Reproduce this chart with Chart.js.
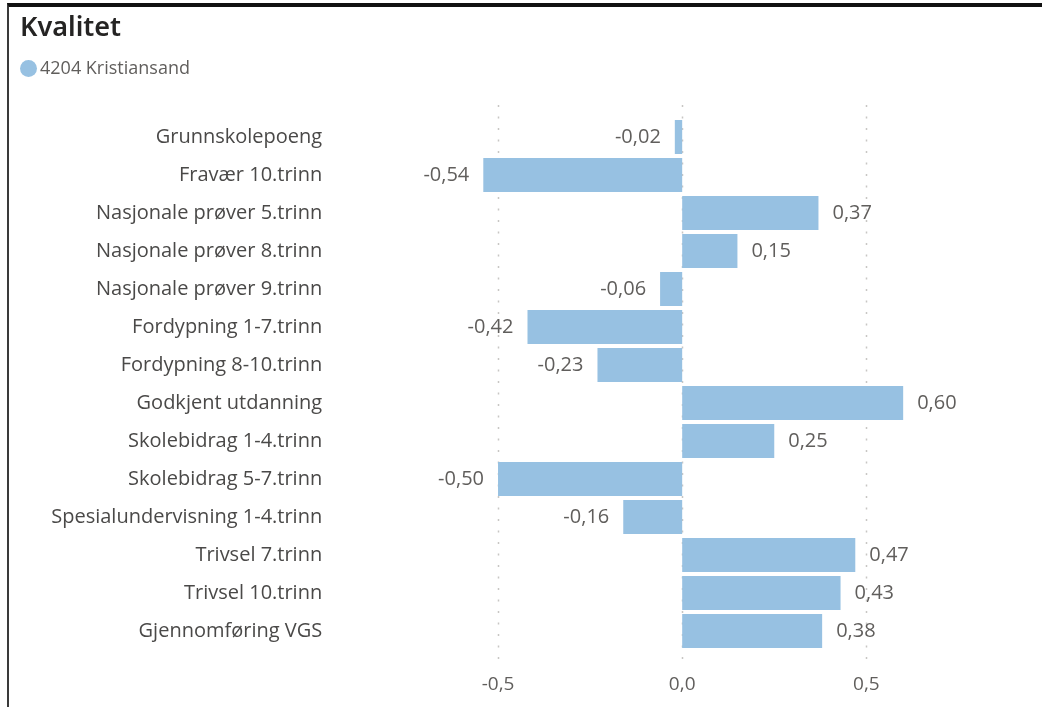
<!DOCTYPE html>
<html>
<head>
<meta charset="utf-8">
<script src="https://cdn.jsdelivr.net/npm/chart.js@4"></script>
<style>
  body { margin: 0; background: #fff; }
  #wrap { position: relative; width: 1042px; height: 707px; }
  #frame { position: absolute; left: 7px; top: 3px; right: 0; bottom: 0;
           border-top: 4px solid #111; border-left: 2px solid #3a3a3a; }
  #chart { position: absolute; left: 0; top: 0; }
</style>
</head>
<body>
<div id="wrap">
  <div id="frame"></div>
  <canvas id="chart" width="1042" height="707"></canvas>
</div>
<script>
const categories = [
  'Grunnskolepoeng', 'Fravær 10.trinn', 'Nasjonale prøver 5.trinn',
  'Nasjonale prøver 8.trinn', 'Nasjonale prøver 9.trinn', 'Fordypning 1-7.trinn',
  'Fordypning 8-10.trinn', 'Godkjent utdanning', 'Skolebidrag 1-4.trinn',
  'Skolebidrag 5-7.trinn', 'Spesialundervisning 1-4.trinn', 'Trivsel 7.trinn',
  'Trivsel 10.trinn', 'Gjennomføring VGS'
];
const kristiansand = [-0.02, -0.54, 0.37, 0.15, -0.06, -0.42, -0.23, 0.60, 0.25, -0.50, -0.16, 0.47, 0.43, 0.38];
const xTicks = [-0.5, 0, 0.5];

const textGrey = '#605E5C';
const fmt = (v, d) => v.toFixed(d).replace('.', ',');

// dotted vertical gridlines, a bit longer than the plot area
const dottedGrid = {
  id: 'dottedGrid',
  beforeDatasetsDraw(chart) {
    const { ctx, chartArea, scales: { x } } = chart;
    ctx.save();
    ctx.strokeStyle = '#c8c6c4';
    ctx.lineWidth = 1.5;
    ctx.setLineDash([2, 9.5]);
    xTicks.forEach(t => {
      const px = Math.round(x.getPixelForValue(t)) + 0.5;
      ctx.beginPath();
      ctx.moveTo(px, chartArea.top - 13);
      ctx.lineTo(px, chartArea.bottom + 13);
      ctx.stroke();
    });
    ctx.restore();
  }
};

// value labels at the end of each bar
const barValues = {
  id: 'barValues',
  afterDatasetsDraw(chart) {
    const { ctx } = chart;
    const meta = chart.getDatasetMeta(0);
    ctx.save();
    ctx.font = '20px "Open Sans"';
    ctx.fillStyle = textGrey;
    ctx.textBaseline = 'middle';
    meta.data.forEach((bar, i) => {
      const v = kristiansand[i];
      if (v >= 0) {
        ctx.textAlign = 'left';
        ctx.fillText(fmt(v, 2), bar.x + 14, bar.y);
      } else {
        ctx.textAlign = 'right';
        ctx.fillText(fmt(v, 2), bar.x - 14, bar.y);
      }
    });
    ctx.restore();
  }
};

// fixed legend block height so the plot starts lower
const legendGap = {
  id: 'legendGap',
  beforeInit(chart) {
    const fit = chart.legend.fit;
    chart.legend.fit = function () {
      fit.bind(chart.legend)();
      this.height = 64.6;
    };
  }
};

new Chart(document.getElementById('chart'), {
  type: 'bar',
  data: {
    labels: categories,
    datasets: [{
      label: '4204 Kristiansand',
      data: kristiansand,
      backgroundColor: '#97C1E2',
      borderWidth: 0,
      categoryPercentage: 1,
      barPercentage: 0.9
    }]
  },
  options: {
    indexAxis: 'y',
    responsive: false,
    animation: false,
    layout: { padding: { left: 20, right: 102, top: 0, bottom: 10.6 } },
    plugins: {
      title: {
        display: true,
        text: 'Kvalitet',
        align: 'start',
        color: '#252423',
        font: { family: '"Noto Sans"', size: 27, weight: '600' },
        padding: { top: 12, bottom: 9 }
      },
      legend: {
        display: true,
        align: 'start',
        labels: {
          usePointStyle: true,
          pointStyle: 'circle',
          boxWidth: 5,
          boxHeight: 12,
          padding: 6,
          color: textGrey,
          font: { family: '"Open Sans"', size: 18 }
        }
      },
      tooltip: { enabled: false }
    },
    scales: {
      x: {
        min: -0.6,
        max: 0.7,
        grid: { display: false, drawTicks: false },
        border: { display: false },
        afterFit(scale) { scale.height = 46.4; },
        ticks: {
          stepSize: 0.5,
          includeBounds: false,
          padding: 23.6,
          color: textGrey,
          font: { family: '"Open Sans"', size: 19 },
          callback: v => fmt(v, 1)
        }
      },
      y: {
        grid: { display: false, drawTicks: false },
        border: { display: false },
        afterFit(scale) {
          scale.width = 441.2;
          scale.paddingTop = 0;
          scale.paddingBottom = 0;
        },
        ticks: {
          padding: 139,
          color: '#4a4948',
          font: { family: '"Open Sans"', size: 20 }
        }
      }
    }
  },
  plugins: [dottedGrid, barValues, legendGap]
});
</script>
</body>
</html>
